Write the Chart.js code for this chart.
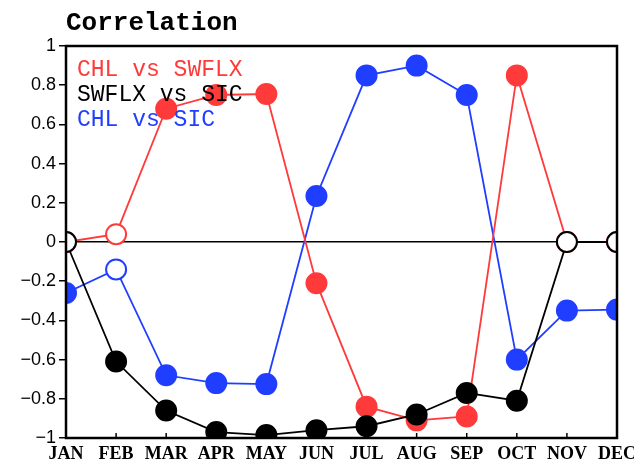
<!DOCTYPE html>
<html>
<head>
<meta charset="utf-8">
<title>Correlation</title>
<script src="https://cdn.jsdelivr.net/npm/chart.js@4/dist/chart.umd.min.js"></script>
<style>
  html, body { margin: 0; padding: 0; background: #fff; }
  #wrap { width: 634px; height: 465px; position: relative; }
</style>
</head>
<body>
<div id="wrap"><canvas id="chart" width="634" height="465"></canvas></div>
<script>
// Months on the x axis
const months = ['JAN','FEB','MAR','APR','MAY','JUN','JUL','AUG','SEP','OCT','NOV','DEC'];

// Monthly correlation coefficients
const chlVsSwflx = [0, 0.04, 0.68, 0.75, 0.755, -0.21, -0.84, -0.91, -0.89, 0.85, 0, 0];
const swflxVsSic = [0, -0.61, -0.86, -0.97, -0.985, -0.96, -0.94, -0.88, -0.77, -0.81, 0, 0];
const chlVsSic   = [-0.26, -0.14, -0.68, -0.72, -0.725, 0.235, 0.85, 0.90, 0.75, -0.60, -0.35, -0.345];

// Months where the correlation is not significant (drawn as open circles)
const chlVsSwflxOpen = [true, true, false, false, false, false, false, false, false, false, true, true];
const swflxVsSicOpen = [true, false, false, false, false, false, false, false, false, false, true, true];
const chlVsSicOpen   = [false, true, false, false, false, false, false, false, false, false, false, false];

// Y axis tick values
const yTicks = [1, 0.8, 0.6, 0.4, 0.2, 0, -0.2, -0.4, -0.6, -0.8, -1];

const RED = 'rgb(255,58,58)';
const BLACK = '#000000';
const BLUE = 'rgb(32,62,255)';

function series(label, data, open, color, order) {
  return {
    label, data, order,
    borderColor: color,
    borderWidth: 1.8,
    pointRadius: 10,
    pointHoverRadius: 10,
    pointBorderWidth: 2,
    pointBorderColor: color,
    pointBackgroundColor: open.map(o => o ? '#ffffff' : color),
    tension: 0,
    clip: 0
  };
}

// Frame, inward x ticks, in-plot legend text and title
const decorations = {
  id: 'decorations',
  afterDatasetsDraw(chart) {
    const { ctx, chartArea: a, scales } = chart;
    ctx.save();
    ctx.strokeStyle = '#000';
    ctx.lineWidth = 1.5;
    months.forEach((m, i) => {
      const x = scales.x.getPixelForValue(i);
      ctx.beginPath();
      ctx.moveTo(x, a.bottom);
      ctx.lineTo(x, a.bottom - 5);
      ctx.stroke();
    });
    ctx.lineWidth = 2.5;
    ctx.strokeRect(a.left, a.top, a.right - a.left, a.bottom - a.top);
    ctx.font = '23px "Liberation Mono", "DejaVu Sans Mono", monospace';
    ctx.textBaseline = 'middle';
    ctx.textAlign = 'left';
    chart.data.datasets.forEach((ds, i) => {
      ctx.fillStyle = ds.borderColor;
      ctx.fillText(ds.label, a.left + 11, a.top + 24 + i * 25);
    });
    ctx.fillStyle = '#000';
    ctx.font = 'bold 26px "Liberation Mono", "DejaVu Sans Mono", monospace';
    ctx.textBaseline = 'alphabetic';
    ctx.fillText('Correlation', a.left, 30);
    ctx.restore();
  }
};

new Chart(document.getElementById('chart'), {
  type: 'line',
  data: {
    labels: months,
    datasets: [
      series('CHL vs SWFLX', chlVsSwflx, chlVsSwflxOpen, RED, 2),
      series('SWFLX vs SIC', swflxVsSic, swflxVsSicOpen, BLACK, 1),
      series('CHL vs SIC', chlVsSic, chlVsSicOpen, BLUE, 3)
    ]
  },
  options: {
    responsive: false,
    animation: false,
    events: [],
    layout: { padding: { top: 46, right: 17, left: 0, bottom: 0 } },
    plugins: {
      legend: { display: false },
      title: { display: false },
      tooltip: { enabled: false }
    },
    scales: {
      x: {
        type: 'category',
        offset: false,
        border: { display: false },
        grid: { display: false, drawTicks: false },
        ticks: {
          color: '#000',
          padding: 6,
          maxRotation: 0,
          autoSkip: false,
          font: { family: '"Liberation Serif", serif', size: 18, weight: 'bold' }
        },
        afterFit(scale) {
          scale.height = 27;
          scale.paddingLeft = 0;
          scale.paddingRight = 0;
        }
      },
      y: {
        min: -1,
        max: 1,
        border: { display: false },
        afterBuildTicks(scale) { scale.ticks = yTicks.map(v => ({ value: v })); },
        grid: {
          drawOnChartArea: true,
          drawTicks: true,
          tickLength: 7,
          tickColor: '#000',
          tickWidth: 1.5,
          lineWidth: 1.5,
          color: ctx => (ctx.tick && ctx.tick.value === 0) ? '#000' : 'rgba(0,0,0,0)'
        },
        ticks: {
          color: '#000',
          padding: 3,
          font: { family: '"Liberation Sans", Arial, sans-serif', size: 18 },
          callback: v => {
            const r = Math.round(v * 10) / 10;
            if (r === 0) return '0';
            return (r < 0 ? '\u2212' : '') + String(Math.abs(r));
          }
        },
        afterFit(scale) { scale.width = 66; }
      }
    }
  },
  plugins: [decorations]
});
</script>
</body>
</html>
